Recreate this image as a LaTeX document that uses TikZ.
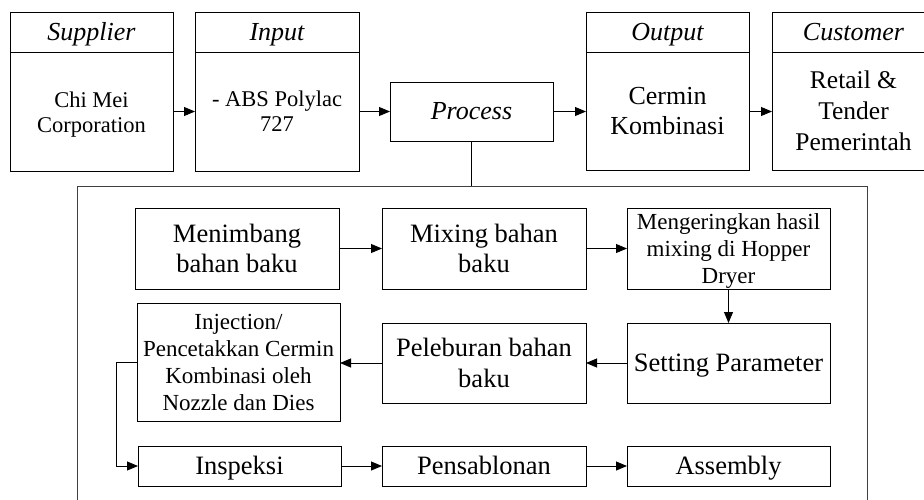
\documentclass[tikz,border=0pt]{standalone}
\usepackage{fontspec}
\setmainfont{Liberation Serif}
\usetikzlibrary{arrows.meta}
\newcommand{\fsz}[2]{\fontsize{#1}{#2}\selectfont}
\begin{document}
\begin{tikzpicture}[x=1pt,y=-1pt,
  box/.style={draw=black, line width=0.9pt, inner sep=0pt, outer sep=0pt, align=center},
  txt/.style={inner sep=0pt, outer sep=0pt, align=center},
  arr/.style={-{Triangle[length=11pt,width=9pt]}, line width=0.9pt},
  ln/.style={line width=0.9pt},
  frame/.style={draw=black!75, line width=0.9pt},
  hd/.style={txt, font=\fsz{26}{30}\itshape, text height=17.4pt, text depth=0pt},
  big/.style={font=\fsz{26.5}{30.5}},
  one/.style={text height=18pt, text depth=2pt},
  small/.style={font=\fsz{23}{27}},
]
\useasboundingbox (0,0) rectangle (924,499);

% ---------- top row: headed boxes ----------
\node[box, minimum width=163pt, minimum height=159pt] (sup) at (91.5,91.5) {};
\node[hd] (suph) at (91.5,32) {Supplier};
\node[txt, font=\fsz{22.5}{25}, yshift=-2.8pt] (supb) at (91.5,111.5) {Chi Mei\\Corporation};
\coordinate (supl) at (10,52);
\draw[ln] (supl) -- (supl -| sup.east);

\node[box, minimum width=164pt, minimum height=159pt] (inp) at (277,91.5) {};
\node[hd] (inph) at (277,32) {Input};
\node[txt, font=\fsz{22.5}{25}] (inpb) at (277,111.5) {- ABS Polylac\\727};
\coordinate (inpl) at (195,52);
\draw[ln] (inpl) -- (inpl -| inp.east);

\node[box, minimum width=163pt, minimum height=59pt, font=\fsz{26}{30}\itshape, text height=17pt, text depth=1pt] (proc) at (471.5,111.5) {Process};

\node[box, minimum width=163pt, minimum height=158pt] (outp) at (667.5,91) {};
\node[hd] (outph) at (667.5,32) {Output};
\node[txt, font=\fsz{26}{30}] (outpb) at (667.5,111.5) {Cermin\\Kombinasi};
\coordinate (outl) at (586,52);
\draw[ln] (outl) -- (outl -| outp.east);

\node[box, minimum width=163pt, minimum height=158pt] (cust) at (853.5,91) {};
\node[hd] (custh) at (853.5,32) {Customer};
\node[txt, font=\fsz{25.5}{31}] (custb) at (853.5,111) {Retail \&\\Tender\\Pemerintah};
\coordinate (custl) at (772,52);
\draw[ln] (custl) -- (custl -| cust.east);

\draw[arr] (sup.east |- proc.west) -- (inp.west |- proc.west);
\draw[arr] (inp.east |- proc.west) -- (proc.west);
\draw[arr] (proc.east) -- (outp.west |- proc.east);
\draw[arr] (outp.east |- proc.east) -- (cust.west |- proc.east);

% ---------- process frame ----------
\coordinate (frtl) at (77,186);
\coordinate (frtr) at (867,186);
\draw[frame] (77,500) -- (frtl) -- (frtr) -- (867,500);
\draw[ln] (proc.south) -- (proc.south |- frtl);

% ---------- inner steps ----------
\node[box, big, minimum width=204pt, minimum height=81pt] (m1) at (237,248.5) {Menimbang\\bahan baku};
\node[box, big, minimum width=204pt, minimum height=81pt] (m2) at (484,248.5) {Mixing bahan\\baku};
\node[box, minimum width=203pt, minimum height=81pt] (m3) at (728.5,248.5) {};
\node[txt, small, yshift=-2.4pt] (m3t) at (m3.center) {Mengeringkan hasil\\mixing di Hopper\\Dryer};
\node[box, big, one, minimum width=203pt, minimum height=80pt] (m4) at (728.5,363) {Setting Parameter};
\node[box, big, minimum width=204pt, minimum height=80pt] (m5) at (484,363) {Peleburan bahan\\baku};
\node[box, small, minimum width=203pt, minimum height=118pt] (m6) at (238.5,362) {Injection/\\Pencetakkan Cermin\\Kombinasi oleh\\Nozzle dan Dies};
\node[box, big, one, minimum width=203pt, minimum height=40pt] (m7) at (239.5,466) {Inspeksi};
\node[box, big, one, minimum width=204pt, minimum height=40pt] (m8) at (484,466) {Pensablonan};
\node[box, big, one, minimum width=203pt, minimum height=40pt] (m9) at (728.5,466) {Assembly};

\draw[arr] (m1.east) -- (m2.west |- m1.east);
\draw[arr] (m2.east) -- (m3.west |- m2.east);
\draw[arr] (m3.south) -- (m4.north);
\draw[arr] (m4.west) -- (m5.east |- m4.west);
\draw[arr] (m5.west) -- (m6.east |- m5.west);
\draw[arr] (m6.west) -- ++(-21,0) |- (m7.west);
\draw[arr] (m7.east) -- (m8.west |- m7.east);
\draw[arr] (m8.east) -- (m9.west |- m8.east);
\end{tikzpicture}
\end{document}
